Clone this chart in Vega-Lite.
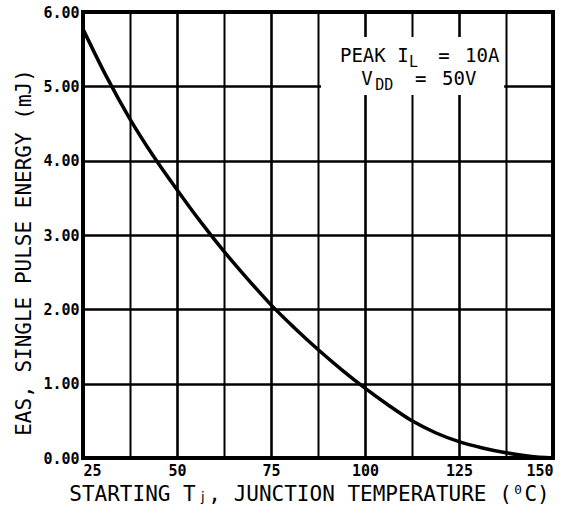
{
  "$schema": "https://vega.github.io/schema/vega-lite/v6.json",
  "width": 470,
  "height": 446,
  "autosize": {"type": "none"},
  "padding": {"left": 83, "top": 12, "right": 24, "bottom": 57},
  "background": "white",
  "config": {
    "view": {"stroke": "black", "strokeWidth": 4},
    "font": "DejaVu Sans Mono"
  },
  "datasets": {
    "curve": [
      {"t": 25, "e": 5.77},
      {"t": 31.25, "e": 5.13},
      {"t": 37.5, "e": 4.56},
      {"t": 43.75, "e": 4.06},
      {"t": 50, "e": 3.61},
      {"t": 56.25, "e": 3.18},
      {"t": 62.5, "e": 2.78},
      {"t": 68.75, "e": 2.41},
      {"t": 75, "e": 2.06},
      {"t": 81.25, "e": 1.75},
      {"t": 87.5, "e": 1.46},
      {"t": 93.75, "e": 1.19},
      {"t": 100, "e": 0.94},
      {"t": 106.25, "e": 0.71},
      {"t": 112.5, "e": 0.5},
      {"t": 118.75, "e": 0.34},
      {"t": 125, "e": 0.22},
      {"t": 131.25, "e": 0.135},
      {"t": 137.5, "e": 0.07},
      {"t": 143.75, "e": 0.025},
      {"t": 150, "e": 0.0}
    ],
    "box": [{"x1": 88.3, "x2": 137.0, "y1": 4.884, "y2": 5.664}],
    "main": [
      {"x": 93.35, "y": 5.328, "text": "PEAK I"},
      {"x": 119.5, "y": 5.328, "text": "="},
      {"x": 126.6, "y": 5.328, "text": "10A"},
      {"x": 99.0, "y": 5.018, "text": "V"},
      {"x": 113.3, "y": 5.018, "text": "="},
      {"x": 120.5, "y": 5.018, "text": "50V"}
    ],
    "sub": [
      {"x": 111.7, "y": 5.26, "text": "L"},
      {"x": 102.7, "y": 4.951, "text": "DD"}
    ]
  },
  "layer": [
    {
      "data": {"name": "box"},
      "mark": {"type": "rect", "fill": "white"},
      "encoding": {
        "x": {
          "field": "x1", "type": "quantitative",
          "scale": {"domain": [25, 150], "nice": false, "zero": false},
          "axis": {
            "title": "STARTING T\u2C7C, JUNCTION TEMPERATURE (\u2070C)",
            "values": [25, 37.5, 50, 62.5, 75, 87.5, 100, 112.5, 125, 137.5, 150],
            "labelExpr": "datum.value % 25 == 0 ? datum.label : ''",
            "labelOverlap": false,
            "labelFlush": true,
            "grid": true,
            "gridColor": "black",
            "gridOpacity": 1,
            "gridWidth": {"condition": {"test": "datum.value % 25 == 0", "value": 2.6}, "value": 2},
            "domain": false,
            "ticks": false,
            "labelPadding": 5,
            "labelFont": "DejaVu Sans Mono",
            "labelFontSize": 15,
            "labelFontWeight": "bold",
            "labelColor": "black",
            "titleFont": "DejaVu Sans Mono",
            "titleFontSize": 21,
            "titleFontWeight": "normal",
            "titleColor": "black",
            "titlePadding": 5,
            "titleX": 226
          }
        },
        "x2": {"field": "x2"},
        "y": {
          "field": "y1", "type": "quantitative",
          "scale": {"domain": [0, 6], "nice": false},
          "axis": {
            "title": "EAS, SINGLE PULSE ENERGY (mJ)",
            "values": [0, 0.5, 1, 1.5, 2, 2.5, 3, 3.5, 4, 4.5, 5, 5.5, 6],
            "labelExpr": "datum.value % 1 == 0 ? format(datum.value, '.2f') : ''",
            "labelOverlap": false,
            "labelFlush": false,
            "grid": true,
            "gridColor": "black",
            "gridOpacity": 1,
            "gridWidth": {"condition": {"test": "datum.value % 1 == 0", "value": 2.6}, "value": 2},
            "domain": false,
            "ticks": false,
            "labelPadding": 4,
            "labelFont": "DejaVu Sans Mono",
            "labelFontSize": 15,
            "labelFontWeight": "bold",
            "labelColor": "black",
            "titleFont": "DejaVu Sans Mono",
            "titleFontSize": 21,
            "titleFontWeight": "normal",
            "titleColor": "black",
            "titlePadding": 8,
            "titleY": 240
          }
        },
        "y2": {"field": "y2"}
      }
    },
    {
      "data": {"name": "curve"},
      "mark": {"type": "line", "interpolate": "monotone", "color": "black", "strokeWidth": 3.5, "clip": true},
      "encoding": {
        "x": {"field": "t", "type": "quantitative"},
        "y": {"field": "e", "type": "quantitative"}
      }
    },
    {
      "data": {"name": "main"},
      "mark": {"type": "text", "align": "left", "baseline": "alphabetic", "font": "DejaVu Sans Mono", "fontSize": 19, "color": "black"},
      "encoding": {
        "x": {"field": "x", "type": "quantitative"},
        "y": {"field": "y", "type": "quantitative"},
        "text": {"field": "text"}
      }
    },
    {
      "data": {"name": "sub"},
      "mark": {"type": "text", "align": "left", "baseline": "alphabetic", "font": "DejaVu Sans Mono", "fontSize": 15, "color": "black"},
      "encoding": {
        "x": {"field": "x", "type": "quantitative"},
        "y": {"field": "y", "type": "quantitative"},
        "text": {"field": "text"}
      }
    }
  ]
}
